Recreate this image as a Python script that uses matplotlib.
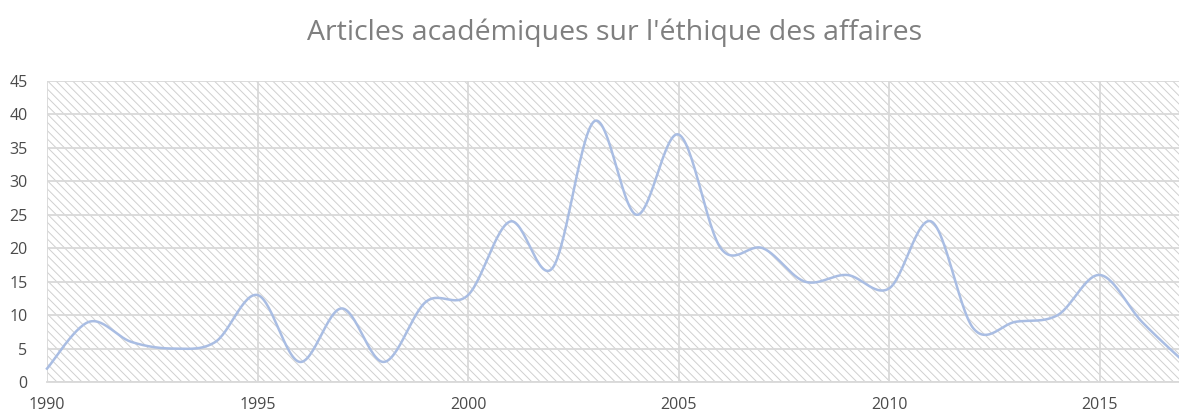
import numpy as np
import matplotlib.pyplot as plt

years = list(range(1990, 2018))
articles = [2, 9, 6, 5, 6, 13, 3, 11, 3, 12, 13, 24, 17, 39, 25, 37,
            20, 20, 15, 16, 14, 24, 8, 9, 10, 16, 9, 3]

x_ticks = [1990, 1995, 2000, 2005, 2010, 2015]
y_ticks = [0, 5, 10, 15, 20, 25, 30, 35, 40, 45]


def smooth(xs, ys, steps=30):
    # bezier smoothing like the spreadsheet "smoothed line" option
    p = np.column_stack([xs, ys]).astype(float)
    p = np.vstack([p[0], p, p[-1]])
    out = []
    t = np.linspace(0, 1, steps)[:, None]
    for i in range(1, len(p) - 2):
        a, b = p[i], p[i + 1]
        c1 = a + (p[i + 1] - p[i - 1]) / 6
        c2 = b - (p[i + 2] - p[i]) / 6
        seg = ((1 - t) ** 3) * a + 3 * ((1 - t) ** 2) * t * c1 + 3 * (1 - t) * t ** 2 * c2 + t ** 3 * b
        out.append(seg if i == 1 else seg[1:])
    out = np.vstack(out)
    return out[:, 0], out[:, 1]


plt.rcParams['font.family'] = ['Open Sans', 'DejaVu Sans']
plt.rcParams['hatch.linewidth'] = 0.7

fig = plt.figure(figsize=(11.79, 4.16), dpi=100)
ax = fig.add_axes([47 / 1179, 34 / 416, 1137 / 1179, 301 / 416])

ax.patch.set_facecolor('white')
ax.patch.set_hatch('\\\\\\\\')
ax.patch.set_edgecolor('#d0d0d0')
ax.patch.set_linewidth(0)

sx, sy = smooth(years, articles)
ax.plot(sx, sy, color='#a9bde3', lw=1.8, zorder=3, clip_on=False)

ax.set_xlim(1990, 2017)
ax.set_ylim(0, 45)
ax.set_xticks(x_ticks)
ax.set_yticks(y_ticks)
ax.grid(True, color='#d9d9d9', lw=1.3)
ax.set_axisbelow(True)
for s in ['top', 'right', 'left']:
    ax.spines[s].set_visible(False)
ax.spines['bottom'].set_color('#d9d9d9')
ax.spines['bottom'].set_linewidth(1.3)
ax.tick_params(length=0, colors='#4a4a4a', labelsize=11.5)
ax.tick_params(axis='x', pad=11)
ax.tick_params(axis='y', pad=14)

fig.text(615 / 1179, 1 - 33 / 416, "Articles académiques sur l'éthique des affaires",
         color='#7f7f7f', fontsize=20.5, ha='center', va='center')

fig.savefig('out.png', dpi=100)
